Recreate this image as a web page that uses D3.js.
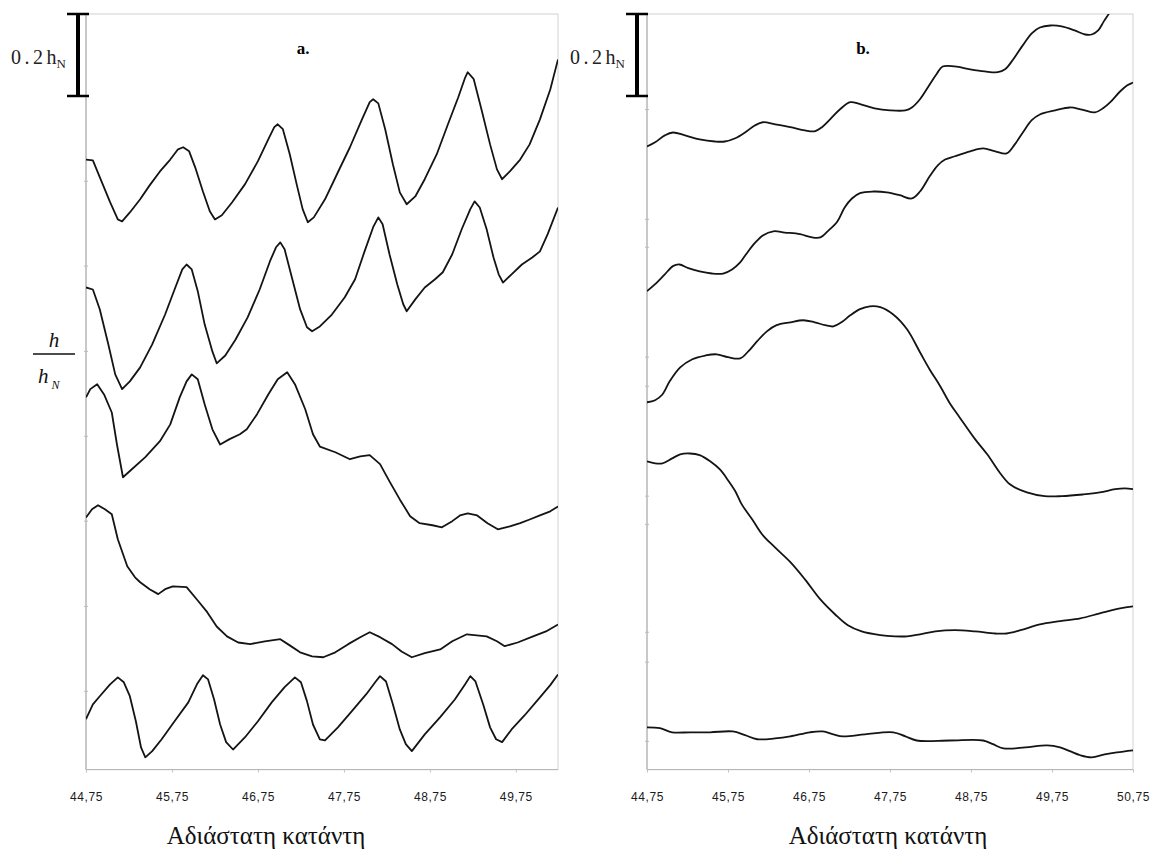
<!DOCTYPE html>
<html>
<head>
<meta charset="utf-8">
<script src="https://cdn.jsdelivr.net/npm/d3@7"></script>
<style>
body{margin:0;background:#fff;}
</style>
</head>
<body>
<div id="container"></div>
<script>
var width = 1157;
var height = 858;

// x tick labels of both panels
var aTicks = [44.75, 45.75, 46.75, 47.75, 48.75, 49.75];
var bTicks = [44.75, 45.75, 46.75, 47.75, 48.75, 49.75, 50.75];
// faint unlabelled ticks on the left axes (h/hN)
var aTicksY = [1.634, 1.427, 1.220, 1.012, 0.805, 0.598, 0.390, 0.183];
var bTicksY = [1.602, 1.334, 1.266, 0.998, 0.927, 0.659, 0.590, 0.327, 0.254, 0.061];

// panel a. profiles (x downstream, y = h/hN, stacked)
var a1x = [44.75,44.83,44.91,45.03,45.12,45.17,45.26,45.38,45.49,45.61,45.73,45.82,45.88,45.95,46.02,46.11,46.19,46.25,46.33,46.45,46.60,46.75,46.87,46.94,46.98,47.04,47.12,47.20,47.27,47.33,47.40,47.53,47.68,47.82,47.96,48.05,48.09,48.15,48.23,48.32,48.40,48.48,48.58,48.69,48.83,48.96,49.08,49.16,49.19,49.26,49.35,49.45,49.53,49.59,49.68,49.80,49.91,50.03,50.15,50.24];
var a1y = [1.480,1.478,1.437,1.376,1.334,1.329,1.351,1.383,1.417,1.451,1.480,1.505,1.510,1.500,1.461,1.402,1.354,1.334,1.344,1.376,1.420,1.476,1.529,1.559,1.566,1.554,1.493,1.420,1.359,1.327,1.339,1.383,1.449,1.510,1.578,1.620,1.627,1.617,1.554,1.468,1.400,1.371,1.390,1.432,1.493,1.566,1.632,1.680,1.693,1.676,1.602,1.517,1.456,1.432,1.451,1.480,1.517,1.578,1.651,1.724];

var a2x = [44.75,44.83,44.91,45.01,45.09,45.17,45.26,45.38,45.52,45.67,45.78,45.87,45.92,45.98,46.05,46.13,46.22,46.27,46.37,46.49,46.63,46.77,46.89,46.96,47.01,47.06,47.15,47.24,47.32,47.38,47.47,47.61,47.76,47.88,47.99,48.09,48.15,48.20,48.28,48.37,48.44,48.48,48.58,48.69,48.81,48.90,49.01,49.12,49.22,49.27,49.33,49.41,49.49,49.55,49.60,49.70,49.82,49.94,50.03,50.12,50.24];
var a2y = [1.168,1.163,1.115,1.029,0.956,0.920,0.939,0.973,1.029,1.102,1.163,1.212,1.224,1.212,1.159,1.078,1.012,0.983,1.002,1.041,1.095,1.163,1.232,1.266,1.278,1.261,1.188,1.115,1.071,1.061,1.073,1.102,1.144,1.188,1.256,1.315,1.339,1.322,1.249,1.176,1.127,1.110,1.139,1.168,1.188,1.205,1.249,1.310,1.359,1.378,1.363,1.310,1.241,1.200,1.180,1.200,1.224,1.241,1.256,1.298,1.363];

var a3x = [44.75,44.80,44.88,44.96,45.05,45.11,45.18,45.28,45.44,45.61,45.73,45.84,45.92,45.98,46.05,46.13,46.22,46.31,46.42,46.54,46.62,46.74,46.87,46.98,47.09,47.18,47.30,47.39,47.47,47.65,47.82,47.94,48.05,48.17,48.28,48.40,48.52,48.63,48.78,48.89,49.01,49.10,49.19,49.30,49.42,49.54,49.68,49.80,49.91,50.03,50.15,50.24];
var a3y = [0.900,0.920,0.932,0.907,0.863,0.785,0.705,0.724,0.754,0.793,0.834,0.900,0.939,0.956,0.944,0.883,0.822,0.785,0.798,0.810,0.822,0.859,0.907,0.944,0.961,0.932,0.871,0.810,0.780,0.766,0.749,0.756,0.759,0.737,0.695,0.651,0.610,0.593,0.588,0.583,0.598,0.612,0.617,0.612,0.593,0.578,0.585,0.593,0.602,0.612,0.622,0.634];

var a4x = [44.75,44.82,44.89,44.97,45.05,45.12,45.23,45.32,45.38,45.49,45.59,45.67,45.76,45.92,46.04,46.16,46.27,46.39,46.52,46.66,46.83,47.01,47.12,47.24,47.38,47.51,47.65,47.80,47.94,48.05,48.17,48.31,48.42,48.54,48.69,48.87,49.01,49.18,49.41,49.53,49.62,49.77,49.95,50.10,50.24];
var a4y = [0.607,0.627,0.637,0.627,0.615,0.554,0.488,0.461,0.449,0.432,0.420,0.432,0.439,0.437,0.407,0.376,0.341,0.317,0.302,0.298,0.305,0.310,0.295,0.278,0.268,0.266,0.278,0.298,0.315,0.327,0.315,0.298,0.280,0.266,0.276,0.285,0.305,0.322,0.317,0.305,0.293,0.302,0.317,0.329,0.346];

var a5x = [44.75,44.83,44.91,45.03,45.12,45.19,45.26,45.33,45.39,45.44,45.52,45.63,45.78,45.94,46.04,46.11,46.17,46.24,46.31,46.38,46.46,46.60,46.75,46.91,47.06,47.18,47.25,47.32,47.39,47.47,47.53,47.68,47.84,48.01,48.12,48.17,48.24,48.32,48.40,48.47,48.54,48.69,48.87,49.04,49.16,49.22,49.28,49.37,49.45,49.52,49.59,49.70,49.85,50.03,50.15,50.24];
var a5y = [0.115,0.151,0.171,0.200,0.217,0.205,0.171,0.110,0.046,0.022,0.037,0.066,0.110,0.156,0.200,0.222,0.212,0.163,0.102,0.059,0.041,0.071,0.110,0.156,0.193,0.217,0.205,0.159,0.102,0.066,0.063,0.095,0.134,0.176,0.207,0.220,0.207,0.151,0.090,0.054,0.037,0.078,0.120,0.163,0.200,0.220,0.207,0.151,0.095,0.066,0.059,0.090,0.124,0.168,0.198,0.224];

// panel b. profiles
var b1x = [44.75,44.85,44.97,45.07,45.22,45.40,45.59,45.71,45.84,45.96,46.08,46.18,46.33,46.52,46.70,46.82,46.91,47.01,47.13,47.26,47.38,47.56,47.75,47.94,48.02,48.12,48.24,48.33,48.40,48.55,48.74,48.92,49.08,49.17,49.27,49.38,49.50,49.60,49.73,49.87,50.03,50.16,50.24,50.32,50.39,50.47,50.53];
var b1y = [1.512,1.522,1.539,1.546,1.539,1.529,1.524,1.524,1.532,1.546,1.563,1.571,1.566,1.559,1.551,1.549,1.559,1.578,1.602,1.620,1.615,1.605,1.600,1.600,1.607,1.627,1.663,1.690,1.707,1.707,1.700,1.695,1.693,1.700,1.724,1.756,1.788,1.802,1.807,1.805,1.795,1.785,1.785,1.795,1.817,1.841,1.861];

var b2x = [44.75,44.85,44.97,45.07,45.15,45.26,45.40,45.55,45.69,45.80,45.90,45.98,46.08,46.18,46.31,46.45,46.64,46.79,46.89,46.98,47.10,47.19,47.28,47.38,47.54,47.71,47.87,48.02,48.12,48.24,48.34,48.43,48.55,48.74,48.90,49.05,49.19,49.29,49.39,49.50,49.60,49.79,49.97,50.12,50.28,50.38,50.47,50.59,50.68,50.75];
var b2y = [1.159,1.176,1.200,1.220,1.224,1.215,1.207,1.202,1.202,1.212,1.229,1.251,1.276,1.295,1.305,1.302,1.298,1.290,1.290,1.305,1.329,1.363,1.385,1.398,1.402,1.400,1.393,1.385,1.402,1.439,1.466,1.480,1.488,1.500,1.507,1.500,1.495,1.517,1.546,1.576,1.590,1.600,1.607,1.602,1.595,1.605,1.620,1.646,1.661,1.668];

var b3x = [44.75,44.85,44.94,45.03,45.16,45.31,45.47,45.61,45.75,45.90,46.00,46.11,46.23,46.35,46.52,46.68,46.82,46.95,47.05,47.15,47.26,47.38,47.50,47.63,47.79,47.96,48.12,48.24,48.37,48.49,48.61,48.80,48.95,49.11,49.23,49.44,49.66,49.87,50.13,50.34,50.53,50.65,50.75];
var b3y = [0.888,0.893,0.907,0.939,0.973,0.993,1.002,1.005,0.998,0.995,1.012,1.037,1.061,1.076,1.083,1.088,1.083,1.076,1.073,1.083,1.100,1.115,1.122,1.120,1.102,1.066,1.010,0.968,0.927,0.885,0.851,0.798,0.761,0.715,0.688,0.668,0.659,0.659,0.663,0.668,0.676,0.678,0.676];

var b4x = [44.75,44.85,44.94,45.06,45.16,45.28,45.40,45.53,45.65,45.75,45.84,45.92,46.05,46.17,46.33,46.52,46.70,46.89,47.07,47.23,47.40,47.63,47.81,47.96,48.12,48.31,48.55,48.80,49.05,49.19,49.36,49.60,49.85,50.10,50.34,50.59,50.75];
var b4y = [0.744,0.739,0.739,0.751,0.761,0.763,0.759,0.744,0.724,0.698,0.671,0.639,0.602,0.566,0.534,0.498,0.456,0.407,0.371,0.344,0.329,0.320,0.317,0.317,0.322,0.329,0.332,0.329,0.324,0.324,0.332,0.346,0.354,0.361,0.373,0.385,0.390];

var b5x = [44.75,44.91,45.06,45.28,45.53,45.81,45.96,46.11,46.33,46.52,46.76,46.92,47.05,47.17,47.44,47.79,47.94,48.08,48.49,48.90,49.02,49.15,49.42,49.69,49.85,49.97,50.10,50.24,50.40,50.55,50.75];
var b5y = [0.095,0.093,0.083,0.083,0.083,0.085,0.076,0.066,0.068,0.073,0.083,0.085,0.078,0.073,0.078,0.083,0.073,0.063,0.063,0.063,0.054,0.044,0.046,0.051,0.046,0.037,0.027,0.022,0.029,0.034,0.039];

var aSeries = [[a1x,a1y],[a2x,a2y],[a3x,a3y],[a4x,a4y],[a5x,a5y]];
var bSeries = [[b1x,b1y],[b2x,b2y],[b3x,b3y],[b4x,b4y],[b5x,b5y]];

var scaleLabel = "0.2";   // bar length in hN
var barValue = 0.2;
var xTitle = "Αδιάστατη κατάντη";
var serif = "'Liberation Serif', 'DejaVu Serif', 'Times New Roman', serif";

var svg = d3.select("div#container")
	.append("svg")
	.attr("width", width)
	.attr("height", height)
	.style("background", "#fff");

// shared vertical scale, h/hN
var y = d3.scaleLinear().domain([-0.008, 1.835]).range([769.6, 14]);

var xa = d3.scaleLinear().domain([44.75, 50.24]).range([86, 558]);
var xb = d3.scaleLinear().domain([44.75, 50.75]).range([647, 1133]);

function panel(id, x, series, ticks, ticksY, curve, name, labelX, barX, titleX){
	var G = svg.append("g").attr("id", id);
	var x0 = x.range()[0], x1 = x.range()[1];
	var yTop = y.range()[1], yBot = y.range()[0];

	G.append("clipPath").attr("id", "clip-" + id)
		.append("rect")
		.attr("x", x0).attr("y", yTop)
		.attr("width", x1 - x0).attr("height", yBot - yTop);

	// plot frame
	G.append("rect")
		.attr("x", x0).attr("y", yTop)
		.attr("width", x1 - x0).attr("height", yBot - yTop)
		.attr("fill", "none")
		.attr("stroke", "#d2d2d2")
		.attr("stroke-width", 1);
	G.append("line")
		.attr("x1", x0).attr("x2", x0)
		.attr("y1", yTop).attr("y2", yBot)
		.attr("stroke", "#a8a8a8");

	G.selectAll("line.ytick")
		.data(ticksY)
		.enter()
		.append("line")
		.attr("class", "ytick")
		.attr("x1", x0 - 2).attr("x2", x0 + 2)
		.attr("y1", function(d){return y(d);})
		.attr("y2", function(d){return y(d);})
		.attr("stroke", "#bcbcbc");

	var axis = d3.axisBottom(x)
		.tickValues(ticks)
		.tickSize(3)
		.tickPadding(20)
		.tickFormat(function(d){return d.toFixed(2).replace(".", ",");});
	var ax = G.append("g")
		.attr("transform", "translate(0," + yBot + ")")
		.call(axis);
	ax.select(".domain").attr("stroke", "#b4b4b4").attr("d", "M" + x0 + ",0H" + x1);
	ax.selectAll(".tick line").attr("stroke", "#c4c4c4");
	ax.selectAll(".tick text")
		.attr("fill", "#1a1a1a")
		.style("font-family", "'Liberation Sans', Arial, sans-serif")
		.style("font-size", "12px")
		.style("letter-spacing", "0.6px");

	var line = d3.line()
		.x(function(d){return x(d[0]);})
		.y(function(d){return y(d[1]);})
		.curve(curve);

	G.append("g")
		.attr("clip-path", "url(#clip-" + id + ")")
		.selectAll("path")
		.data(series)
		.enter()
		.append("path")
		.attr("d", function(s){return line(d3.zip(s[0], s[1]));})
		.attr("fill", "none")
		.attr("stroke", "#141414")
		.attr("stroke-width", 1.8)
		.attr("stroke-linejoin", "round");

	// scale bar: 0.2 hN
	var yb0 = y(y.domain()[1]), yb1 = y(y.domain()[1] - barValue);
	G.append("line")
		.attr("x1", barX).attr("x2", barX)
		.attr("y1", yb0).attr("y2", yb1)
		.attr("stroke", "#000").attr("stroke-width", 4);
	G.selectAll("line.cap")
		.data([yb0, yb1])
		.enter()
		.append("line")
		.attr("class", "cap")
		.attr("x1", barX - 11).attr("x2", barX + 11)
		.attr("y1", function(d){return d;})
		.attr("y2", function(d){return d;})
		.attr("stroke", "#000").attr("stroke-width", 2.5);
	var st = G.append("text")
		.attr("x", barX - 12)
		.attr("y", (yb0 + yb1) / 2 + 9)
		.attr("text-anchor", "end")
		.style("font-family", serif)
		.style("font-size", "20px")
		.attr("fill", "#222");
	st.append("tspan").text(scaleLabel).style("letter-spacing", "3.5px");
	st.append("tspan").text("h");
	st.append("tspan").text("N").attr("dy", 4).style("font-size", "13px");

	// panel name
	G.append("text")
		.attr("x", labelX).attr("y", 54)
		.attr("text-anchor", "middle")
		.style("font-family", serif)
		.style("font-weight", "bold")
		.style("font-size", "17px")
		.text(name);

	// x title
	G.append("text")
		.attr("x", titleX)
		.attr("y", 844)
		.attr("text-anchor", "middle")
		.style("font-family", serif)
		.style("font-size", "25px")
		.attr("fill", "#111")
		.text(xTitle);
}

panel("a", xa, aSeries, aTicks, aTicksY, d3.curveLinear, "a.", 303, 78, 266);
panel("b", xb, bSeries, bTicks, bTicksY, d3.curveCatmullRom.alpha(0.5), "b.", 863, 637, 888);

// y label h / hN
var yl = svg.append("g").attr("id", "ylabel")
	.style("font-family", serif)
	.style("font-style", "italic")
	.attr("fill", "#111");
yl.append("text").attr("x", 54).attr("y", 347).attr("text-anchor", "middle")
	.style("font-size", "21px").text("h");
yl.append("line").attr("x1", 33).attr("x2", 75).attr("y1", 354).attr("y2", 354)
	.attr("stroke", "#111").attr("stroke-width", 1.6);
var den = yl.append("text").attr("x", 38).attr("y", 383).style("font-size", "21px");
den.append("tspan").text("h");
den.append("tspan").text("N").attr("dx", 3).attr("dy", 6).style("font-size", "12px");
</script>
</body>
</html>
